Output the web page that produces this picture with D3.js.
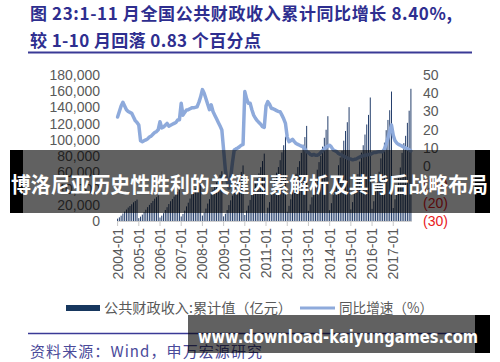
<!DOCTYPE html>
<html>
<head>
<meta charset="utf-8">
<script src="https://cdn.jsdelivr.net/npm/d3@7"></script>
<style>
  body { margin: 0; background: #fff; }
  svg { display: block; }
</style>
</head>
<body>
<div id="chart"></div>
<script>
// cumulative revenue (亿元), monthly, 2004-01 .. 2017-11
const revenue = [
  2900, 4500, 6600, 9200, 11600, 14200, 16600, 18500, 20600, 23000, 24600, 26400,
  3500, 5400, 7900, 11000, 13900, 17100, 19900, 22200, 24700, 27500, 29400, 31650,
  4300, 6600, 9700, 13600, 17000, 20900, 24400, 27100, 30200, 33700, 36000, 38760,
  5600, 8700, 12800, 18000, 22600, 27700, 32300, 35900, 40000, 44600, 47700, 51320,
  6700, 10400, 15300, 21500, 27000, 33100, 38600, 42900, 47800, 53400, 57000, 61330,
  5700, 9000, 13500, 19600, 25500, 31400, 36800, 41200, 47200, 54000, 60500, 68520,
  7400, 12800, 19000, 26000, 32500, 39800, 46700, 52500, 58800, 66400, 73900, 83100,
  9600, 16400, 23300, 32200, 41300, 51000, 59600, 66500, 75000, 84600, 93400, 103870,
  11500, 18700, 26800, 36500, 46200, 58300, 66500, 73800, 84000, 94100, 103500, 117250,
  12500, 20400, 29300, 39700, 50500, 63300, 72600, 80300, 91700, 102600, 112500, 129210,
  13300, 22000, 32000, 43000, 54400, 68800, 78400, 86500, 99000, 111000, 121800, 140370,
  14300, 23300, 33900, 45400, 57800, 73300, 84300, 93400, 106600, 119000, 130800, 152270,
  15000, 24400, 36000, 48000, 60800, 77200, 87900, 96600, 112000, 124600, 136600, 159600,
  16000, 26700, 39600, 53000, 66000, 84000, 96000, 105000, 121000, 136000, 163000
];

// yoy growth (%)
const growth = [
  27, 30, 33, 35, 33, 31, 30, 29.5, 29, 27, 25, 24,
  22.6, 14, 13.5, 14, 14.4, 15, 16, 16.5, 17.5, 18.5, 19, 20,
  24.4, 21, 21.5, 22.5, 23.5, 22, 22.5, 23, 23.5, 24, 25.3, 25.5,
  34.5, 28, 29.5, 30.8, 31, 31.5, 32, 32, 32.3, 32.6, 35, 38,
  42, 40, 37, 34, 31, 33.6, 30, 28, 26, 24, 22, 19.9,
  9, -2, -8, -12, -6, 2, 8.9, 9.5, 10, 10.7, 11.5, 12,
  40.9, 37, 34.5, 34.5, 31, 28, 26.3, 25, 24, 23, 21.7, 21.3,
  33, 35.4, 34, 31.8, 31.5, 31, 30.5, 30, 29.9, 28, 26, 23.5,
  16, 13.5, 14, 14.8, 13.5, 12.5, 12, 11.5, 11, 10.7, 9.5, 8,
  7.5, 6.5, 6, 6.5, 6, 6, 6.5, 7.5, 8.5, 9.5, 10.5, 11,
  11.5, 10.5, 9, 8.5, 8, 7, 6.5, 6, 5.5, 5, 4.5, 4,
  4, 3.5, 3.8, 4, 4.5, 5, 5.5, 5.8, 6, 6.2, 6.4, 6.5,
  7, 7.5, 7.5, 7.8, 8, 8, 8, 9.5, 12, 15.5, 19, 22.6,
  17, 14, 12.7, 12, 11.5, 11, 10.5, 10, 9.5, 9, 8.4
];

const years = [2004, 2005, 2006, 2007, 2008, 2009, 2010, 2011, 2012, 2013, 2014, 2015, 2016, 2017];
const leftTicks = [0, 20000, 40000, 60000, 80000, 100000, 120000, 140000, 160000, 180000];
const rightTicks = [-30, -20, -10, 0, 10, 20, 30, 40, 50];

// month labels
const months = [];
years.forEach(y => {
  for (let m = 1; m <= 12; m++) months.push(`${y}-${String(m).padStart(2, '0')}`);
});
months.length = revenue.length;
const yearTicks = years.map(y => `${y}-01`);

const barColor = '#1f3a68';
const lineColor = '#8eaadb';
const axisText = '#595959';
const titleColor = '#2e2e8f';

const svg = d3.select('#chart')
  .append('svg')
  .attr('width', 500)
  .attr('height', 362);

// title
svg.append('text')
  .attr('x', 30).attr('y', 20)
  .attr('textLength', 422).attr('lengthAdjust', 'spacing')
  .style('font-family', '"Noto Sans CJK SC", sans-serif')
  .style('font-weight', 'bold').style('font-size', '17px')
  .attr('fill', titleColor)
  .text('图 23:1-11 月全国公共财政收入累计同比增长 8.40%,');
svg.append('text')
  .attr('x', 30).attr('y', 47)
  .attr('textLength', 231).attr('lengthAdjust', 'spacing')
  .style('font-family', '"Noto Sans CJK SC", sans-serif')
  .style('font-weight', 'bold').style('font-size', '17px')
  .attr('fill', titleColor)
  .text('较 1-10 月回落 0.83 个百分点');
svg.append('line')
  .attr('x1', 28).attr('x2', 472).attr('y1', 52.5).attr('y2', 52.5)
  .attr('stroke', '#3a3a96').attr('stroke-width', 2);

// scales
const x = d3.scaleBand()
  .domain(months)
  .range([117.1, 411.4])
  .paddingInner(0.45);

const yL = d3.scaleLinear().domain([0, 180000]).range([221, 75]);
const yR = d3.scaleLinear().domain([-30, 50]).range([221, 75]);

// bars
svg.append('g')
  .selectAll('rect')
  .data(revenue)
  .join('rect')
  .attr('x', (d, i) => x(months[i]))
  .attr('y', d => yL(d))
  .attr('width', x.bandwidth())
  .attr('height', d => yL(0) - yL(d))
  .attr('fill', barColor);

// x axis
const xAxis = svg.append('g')
  .attr('transform', 'translate(0,221)')
  .call(d3.axisBottom(x).tickValues(yearTicks).tickSize(5).tickSizeOuter(0));
xAxis.select('.domain').attr('stroke', '#d0d0d0');
xAxis.selectAll('.tick line').attr('stroke', '#c8c8c8');
xAxis.selectAll('.tick text')
  .attr('transform', 'rotate(-90)')
  .attr('text-anchor', 'end')
  .attr('x', -7).attr('y', 0).attr('dy', '0.35em')
  .attr('fill', axisText)
  .style('font-family', '"Liberation Sans", Arial, sans-serif')
  .style('font-size', '14px');

// growth line
const line = d3.line()
  .x((d, i) => x(months[i]) + x.bandwidth() / 2)
  .y(d => yR(d))
  .curve(d3.curveLinear);

svg.append('path')
  .datum(growth)
  .attr('d', line)
  .attr('fill', 'none')
  .attr('stroke', lineColor)
  .attr('stroke-width', 3.5)
  .attr('stroke-linejoin', 'round')
  .attr('stroke-linecap', 'round');

// left axis
const left = svg.append('g')
  .attr('transform', 'translate(100,0)')
  .call(d3.axisLeft(yL).tickValues(leftTicks).tickSize(0).tickPadding(0).tickFormat(d3.format(',')));
left.select('.domain').remove();
left.selectAll('text')
  .attr('fill', axisText)
  .style('font-family', '"Liberation Sans", Arial, sans-serif')
  .style('font-size', '14px');

// right axis
const right = svg.append('g')
  .attr('transform', 'translate(423,0)')
  .call(d3.axisRight(yR).tickValues(rightTicks).tickSize(0).tickPadding(0)
    .tickFormat(d => d < 0 ? `(${-d})` : d));
right.select('.domain').remove();
right.selectAll('text')
  .attr('fill', d => d < 0 ? '#e8201c' : axisText)
  .style('font-family', '"Liberation Sans", Arial, sans-serif')
  .style('font-size', '14px');

// legend
const legend = svg.append('g').attr('transform', 'translate(0,308)');
legend.append('rect')
  .attr('x', 66).attr('y', -3).attr('width', 34).attr('height', 6)
  .attr('fill', '#17375e');
legend.append('text')
  .attr('x', 104).attr('y', 0).attr('dy', '0.35em')
  .attr('textLength', 188).attr('lengthAdjust', 'spacingAndGlyphs')
  .attr('fill', axisText)
  .style('font-family', '"Noto Sans CJK SC", sans-serif')
  .style('font-size', '14px')
  .text('公共财政收入:累计值（亿元）');
legend.append('line')
  .attr('x1', 300).attr('x2', 335).attr('y1', 0).attr('y2', 0)
  .attr('stroke', lineColor).attr('stroke-width', 3);
legend.append('text')
  .attr('x', 339).attr('y', 0).attr('dy', '0.35em')
  .attr('textLength', 94).attr('lengthAdjust', 'spacingAndGlyphs')
  .attr('fill', axisText)
  .style('font-family', '"Noto Sans CJK SC", sans-serif')
  .style('font-size', '14px')
  .text('同比增速（%）');

// footer
svg.append('line')
  .attr('x1', 28).attr('x2', 472).attr('y1', 333.5).attr('y2', 333.5)
  .attr('stroke', '#3a3a96').attr('stroke-width', 1.5);
svg.append('text')
  .attr('x', 30).attr('y', 357)
  .attr('textLength', 232).attr('lengthAdjust', 'spacing')
  .attr('fill', '#4a4a9a')
  .style('font-family', '"Noto Sans CJK SC", sans-serif')
  .style('font-size', '15px')
  .text('资料来源：Wind，申万宏源研究');

// overlay banner
svg.append('rect')
  .attr('x', 23).attr('y', 150).attr('width', 452).attr('height', 63)
  .attr('fill', 'rgba(0,0,0,0.62)');
svg.append('rect')
  .attr('x', 10).attr('y', 150).attr('width', 13).attr('height', 63)
  .attr('fill', '#000');
svg.append('rect')
  .attr('x', 475).attr('y', 150).attr('width', 15).attr('height', 63)
  .attr('fill', '#000');
svg.append('text')
  .attr('x', 11).attr('y', 192)
  .attr('textLength', 477).attr('lengthAdjust', 'spacingAndGlyphs')
  .attr('fill', '#fff')
  .style('font-family', '"Noto Sans CJK SC", sans-serif')
  .style('font-weight', 'bold').style('font-size', '21px')
  .text('博洛尼亚历史性胜利的关键因素解析及其背后战略布局');

// watermark box
svg.append('rect')
  .attr('x', 188).attr('y', 315).attr('width', 287).attr('height', 38)
  .attr('fill', 'rgba(0,0,0,0.62)');
svg.append('rect')
  .attr('x', 475).attr('y', 315).attr('width', 15).attr('height', 38)
  .attr('fill', '#000');
svg.append('text')
  .attr('x', 198).attr('y', 343)
  .attr('textLength', 280).attr('lengthAdjust', 'spacingAndGlyphs')
  .attr('fill', '#fff')
  .style('font-family', '"DejaVu Sans", sans-serif')
  .style('font-weight', 'bold').style('font-size', '18px')
  .text('www.download-kaiyungames.com');
</script>
</body>
</html>
